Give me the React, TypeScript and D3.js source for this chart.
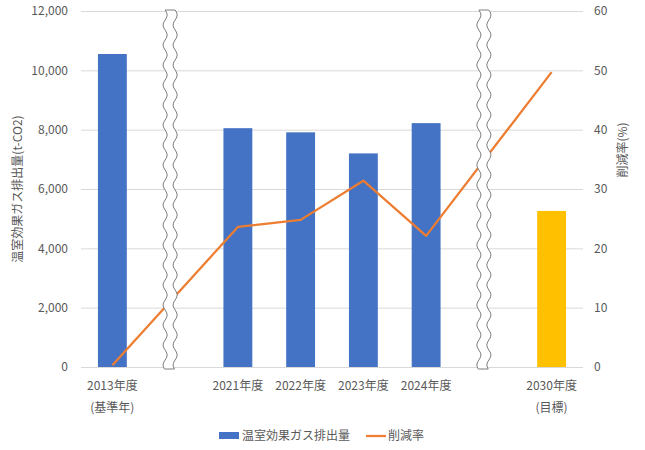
import { useEffect, useRef } from "react";
import * as d3 from "d3";

// category keys (break slots are the wavy separators)
const categories = ["2013", "break1", "2021", "2022", "2023", "2024", "break2", "2030"];
const labels = ["2013年度", "", "2021年度", "2022年度", "2023年度", "2024年度", "", "2030年度"];
const subLabels = ["(基準年)", "", "", "", "", "", "", "(目標)"];

// 温室効果ガス排出量 (t-CO2)
const emissions: (number | null)[] = [10550, null, 8050, 7910, 7200, 8220, null, 5260];
// 削減率 (%)
const reductionRate: (number | null)[] = [0.3, null, 23.6, 24.8, 31.4, 22.1, null, 49.7];

const leftTicks = [0, 2000, 4000, 6000, 8000, 10000, 12000];
const rightTicks = [0, 10, 20, 30, 40, 50, 60];

const BLUE = "#4472C4";
const GOLD = "#FFC000";
const ORANGE = "#ED7D31";
const TEXT = "#595959";
const FONT = "'Noto Sans CJK JP', 'Noto Sans', sans-serif";

export default function App() {
  const svgRef = useRef<SVGSVGElement>(null);

  useEffect(() => {
    if (!svgRef.current) return;
    const svg = d3.select(svgRef.current);
    svg.selectAll("*").remove();

    const width = 645;
    const height = 450;
    const margin = { top: 11, right: 62, bottom: 83, left: 81 };
    const plotRight = width - margin.right;
    const plotBottom = height - margin.bottom;

    svg.attr("width", width).attr("height", height);

    const x = d3.scaleBand<string>()
      .domain(categories)
      .range([margin.left, plotRight])
      .paddingInner(0.54)
      .paddingOuter(0.27);

    const yLeft = d3.scaleLinear().domain([0, 12000]).range([plotBottom, margin.top]);
    const yRight = d3.scaleLinear().domain([0, 60]).range([plotBottom, margin.top]);

    // gridlines
    svg.append("g")
      .selectAll("line")
      .data(leftTicks)
      .join("line")
      .attr("x1", margin.left)
      .attr("x2", plotRight)
      .attr("y1", d => yLeft(d) + 0.5)
      .attr("y2", d => yLeft(d) + 0.5)
      .attr("stroke", "#d9d9d9")
      .attr("stroke-width", 1);

    // left tick labels
    svg.append("g")
      .selectAll("text")
      .data(leftTicks)
      .join("text")
      .attr("x", 68)
      .attr("y", d => yLeft(d))
      .attr("dy", "0.35em")
      .attr("text-anchor", "end")
      .attr("font-family", FONT)
      .attr("font-size", 12)
      .attr("fill", TEXT)
      .text(d => d3.format(",")(d));

    // right tick labels
    svg.append("g")
      .selectAll("text")
      .data(rightTicks)
      .join("text")
      .attr("x", 594)
      .attr("y", d => yRight(d))
      .attr("dy", "0.35em")
      .attr("text-anchor", "start")
      .attr("font-family", FONT)
      .attr("font-size", 12)
      .attr("fill", TEXT)
      .text(d => String(d));

    // axis titles
    svg.append("text")
      .attr("transform", `translate(18, ${(margin.top + plotBottom) / 2}) rotate(-90)`)
      .attr("text-anchor", "middle")
      .attr("dy", "0.35em")
      .attr("font-family", FONT)
      .attr("font-size", 12)
      .attr("fill", TEXT)
      .text("温室効果ガス排出量(t-CO2)");

    svg.append("text")
      .attr("transform", `translate(623, 150) rotate(-90)`)
      .attr("text-anchor", "middle")
      .attr("dy", "0.35em")
      .attr("font-family", FONT)
      .attr("font-size", 12)
      .attr("fill", TEXT)
      .text("削減率(%)");

    // bars
    const barData = categories
      .map((c, i) => ({ c, v: emissions[i], i }))
      .filter(d => d.v !== null) as { c: string; v: number; i: number }[];

    svg.append("g")
      .selectAll("rect")
      .data(barData)
      .join("rect")
      .attr("x", d => x(d.c)!)
      .attr("y", d => yLeft(d.v))
      .attr("width", x.bandwidth())
      .attr("height", d => plotBottom - yLeft(d.v))
      .attr("fill", d => (d.c === "2030" ? GOLD : BLUE));

    // line (gaps connected)
    const lineData = categories
      .map((c, i) => ({ c, v: reductionRate[i] }))
      .filter(d => d.v !== null) as { c: string; v: number }[];

    const line = d3.line<{ c: string; v: number }>()
      .x(d => x(d.c)! + x.bandwidth() / 2)
      .y(d => yRight(d.v));

    svg.append("path")
      .datum(lineData)
      .attr("fill", "none")
      .attr("stroke", ORANGE)
      .attr("stroke-width", 2.25)
      .attr("stroke-linejoin", "round")
      .attr("d", line);

    // wavy break markers
    const breaks = ["break1", "break2"];
    const top = margin.top - 1;
    const bottom = plotBottom + 2;
    const amp = 2;
    const period = 20;
    const halfW = 5;
    breaks.forEach(b => {
      const cx = x(b)! + x.bandwidth() / 2 - 5;
      const leftPts: [number, number][] = d3.range(top, bottom + 0.1, 1).map(y => [
        cx - halfW + amp * Math.sin((2 * Math.PI * (y - top)) / period),
        y,
      ]);
      const rightPts: [number, number][] = leftPts
        .map(([px, py]) => [px + halfW * 2, py] as [number, number])
        .reverse();
      const pts = [...leftPts, ...rightPts];
      svg.append("path")
        .attr("d", d3.line()(pts) + "Z")
        .attr("fill", "#ffffff")
        .attr("stroke", "#7f7f7f")
        .attr("stroke-width", 1);
    });

    // category labels
    const labelG = svg.append("g")
      .attr("font-family", FONT)
      .attr("font-size", 12)
      .attr("fill", TEXT)
      .attr("text-anchor", "middle");

    labelG.selectAll("text.main")
      .data(categories.map((c, i) => ({ c, t: labels[i] })).filter(d => d.t))
      .join("text")
      .attr("class", "main")
      .attr("x", d => x(d.c)! + x.bandwidth() / 2)
      .attr("y", 386)
      .attr("dy", "0.35em")
      .text(d => d.t);

    labelG.selectAll("text.sub")
      .data(categories.map((c, i) => ({ c, t: subLabels[i] })).filter(d => d.t))
      .join("text")
      .attr("class", "sub")
      .attr("x", d => x(d.c)! + x.bandwidth() / 2)
      .attr("y", 408)
      .attr("dy", "0.35em")
      .text(d => d.t);

    // legend
    const legend = svg.append("g")
      .attr("font-family", FONT)
      .attr("font-size", 12)
      .attr("fill", TEXT);

    legend.append("rect")
      .attr("x", 219)
      .attr("y", 432)
      .attr("width", 20)
      .attr("height", 7)
      .attr("fill", BLUE);
    legend.append("text")
      .attr("x", 242)
      .attr("y", 436)
      .attr("dy", "0.35em")
      .text("温室効果ガス排出量");

    legend.append("line")
      .attr("x1", 366)
      .attr("x2", 386)
      .attr("y1", 436)
      .attr("y2", 436)
      .attr("stroke", ORANGE)
      .attr("stroke-width", 2.25);
    legend.append("text")
      .attr("x", 388)
      .attr("y", 436)
      .attr("dy", "0.35em")
      .text("削減率");
  }, []);

  return (
    <svg
      ref={svgRef}
      style={{ position: "absolute", left: 0, top: 0, background: "#ffffff" }}
    ></svg>
  );
}
